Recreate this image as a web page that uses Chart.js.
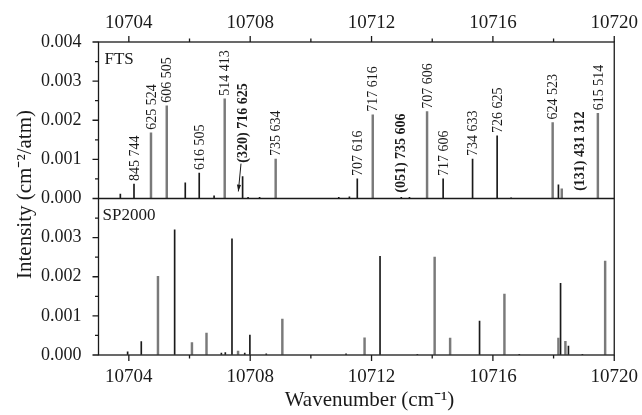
<!DOCTYPE html>
<html>
<head>
<meta charset="utf-8">
<script src="https://cdn.jsdelivr.net/npm/chart.js@4.4.1/dist/chart.umd.min.js"></script>
<style>
  html, body { margin: 0; padding: 0; background: #fff; }
  #wrap { width: 642px; height: 415px; }
</style>
</head>
<body>
<div id="wrap"><canvas id="spectrum"></canvas></div>
<script>
// FTS (top panel) lines, split by shade
const ftsGrayX = [10704.73, 10705.25, 10707.16, 10708.84, 10712.04, 10713.83, 10717.97, 10718.27, 10719.46];
const ftsGrayY = [0.00168, 0.00237, 0.00255, 0.00101, 0.00214, 0.00222, 0.00194, 0.00025, 0.00218];
const ftsBlackX = [10703.72, 10704.17, 10705.86, 10706.32, 10706.81, 10707.75, 10707.93, 10708.31, 10710.92, 10711.27, 10711.53, 10712.98, 10713.25, 10714.36, 10715.33, 10716.14, 10716.60, 10718.16];
const ftsBlackY = [0.00011, 0.00037, 0.00040, 0.00065, 0.00007, 0.00056, 0.00003, 0.00003, 0.00003, 0.00004, 0.00050, 0.00003, 0.00003, 0.00050, 0.00101, 0.00160, 0.00002, 0.00035];

// assignments written above the FTS lines
const lineNames = ['845 744', '625 524', '606 505', '616 505', '514 413', '(320) 716 625', '735 634', '707 616',
                   '717 616', '(051) 735 606', '707 606', '717 606', '734 633', '726 625', '624 523', '(131) 431 312', '615 514'];
const lineNameX = [10704.17, 10704.73, 10705.25, 10706.32, 10707.16, 10707.73, 10708.84, 10711.53,
                   10712.04, 10712.96, 10713.83, 10714.36, 10715.33, 10716.14, 10717.97, 10718.85, 10719.46];
const lineNameAt = [0.00037, 0.00168, 0.00237, 0.00065, 0.00255, 0.00084, 0.00101, 0.00050,
                    0.00214, 0.00007, 0.00222, 0.00050, 0.00101, 0.00160, 0.00194, 0.00012, 0.00218];
const boldNames = ['(320) 716 625', '(051) 735 606', '(131) 431 312'];
const arrowTip = [10707.61, 0.00018];

// SP2000 (bottom panel) lines
const spGrayX = [10704.96, 10706.08, 10706.56, 10707.60, 10709.06, 10711.77, 10714.08, 10714.59, 10716.38, 10718.16, 10718.39, 10719.70];
const spGrayY = [0.00201, 0.00032, 0.00056, 0.00010, 0.00092, 0.00044, 0.00250, 0.00043, 0.00156, 0.00043, 0.00035, 0.00240];
const spBlackX = [10703.96, 10704.41, 10705.51, 10707.05, 10707.18, 10707.40, 10707.82, 10707.99, 10708.53, 10711.16, 10712.28, 10713.51, 10715.56, 10716.87, 10718.23, 10718.49, 10718.95];
const spBlackY = [0.00008, 0.00034, 0.00320, 0.00005, 0.00006, 0.00297, 0.00005, 0.00051, 0.00003, 0.00003, 0.00252, 0.00002, 0.00087, 0.00002, 0.00183, 0.00023, 0.00002];

const xTicks = [10704, 10706, 10708, 10710, 10712, 10714, 10716, 10718, 10720];
const yTicks = [0, 0.0005, 0.001, 0.0015, 0.002, 0.0025, 0.003, 0.0035, 0.004];

const SERIF = '"Liberation Serif", "Times New Roman", serif';
const INK = '#1a1a1a';

function pts(xs, ys) {
    return xs.map((x, i) => ({ x: x, y: ys[i] }));
}

function isMajorY(v) {
    return Math.round(v * 2000) % 2 === 0;
}

const frame = {
    id: 'frame',
    afterDraw(chart) {
        const ctx = chart.ctx;
        const a = chart.chartArea;
        const x = chart.scales.x;
        const yt = chart.scales.yTop;
        const yb = chart.scales.yBot;
        ctx.save();
        ctx.strokeStyle = INK;
        ctx.lineWidth = 1.3;
        ctx.strokeRect(a.left, a.top, a.right - a.left, a.bottom - a.top);
        ctx.beginPath();
        ctx.moveTo(a.left, yt.bottom);
        ctx.lineTo(a.right, yt.bottom);
        // x ticks, outward on top and bottom
        xTicks.forEach(v => {
            const px = x.getPixelForValue(v);
            const len = v % 4 === 0 ? 6 : 3.5;
            ctx.moveTo(px, a.bottom);
            ctx.lineTo(px, a.bottom + len);
            ctx.moveTo(px, a.top);
            ctx.lineTo(px, a.top - len);
        });
        // y ticks on both panels, outward left
        [yt, yb].forEach(s => {
            yTicks.forEach(v => {
                const py = s.getPixelForValue(v);
                const len = isMajorY(v) ? 6 : 3.5;
                ctx.moveTo(a.left, py);
                ctx.lineTo(a.left - len, py);
            });
        });
        ctx.stroke();

        // y axis title spanning both panels
        ctx.fillStyle = INK;
        ctx.font = '21px ' + SERIF;
        ctx.textAlign = 'center';
        ctx.textBaseline = 'middle';
        ctx.translate(25, (a.top + a.bottom) / 2 - 4);
        ctx.rotate(-Math.PI / 2);
        ctx.fillText('Intensity (cm\u207B\u00B2/atm)', 0, 0);
        ctx.restore();

        // panel names
        ctx.save();
        ctx.fillStyle = INK;
        ctx.font = '17px ' + SERIF;
        ctx.textAlign = 'left';
        ctx.textBaseline = 'middle';
        ctx.fillText('FTS', a.left + 6, a.top + 18);
        ctx.fillText('SP2000', a.left + 4, yt.bottom + 17);
        ctx.restore();

        // line assignments
        ctx.save();
        ctx.fillStyle = INK;
        ctx.textAlign = 'left';
        ctx.textBaseline = 'middle';
        lineNames.forEach((name, i) => {
            const px = x.getPixelForValue(lineNameX[i]) + 1;
            const py = yt.getPixelForValue(lineNameAt[i]) - 3;
            ctx.font = (boldNames.includes(name) ? 'bold ' : '') + '14px ' + SERIF;
            ctx.save();
            ctx.translate(px, py);
            ctx.rotate(-Math.PI / 2);
            ctx.fillText(name, 0, 0);
            ctx.restore();
        });
        // arrow for the (320) band
        const i320 = lineNames.indexOf('(320) 716 625');
        const sx = x.getPixelForValue(lineNameX[i320]) - 1;
        const sy = yt.getPixelForValue(lineNameAt[i320]) - 2;
        const tx = x.getPixelForValue(arrowTip[0]);
        const ty = yt.getPixelForValue(arrowTip[1]);
        ctx.strokeStyle = INK;
        ctx.lineWidth = 1;
        ctx.beginPath();
        ctx.moveTo(sx, sy);
        ctx.lineTo(tx, ty);
        ctx.stroke();
        const ang = Math.atan2(ty - sy, tx - sx);
        ctx.beginPath();
        ctx.moveTo(tx, ty);
        ctx.lineTo(tx - 7 * Math.cos(ang - 0.3), ty - 7 * Math.sin(ang - 0.3));
        ctx.lineTo(tx - 7 * Math.cos(ang + 0.3), ty - 7 * Math.sin(ang + 0.3));
        ctx.closePath();
        ctx.fill();
        ctx.restore();
    }
};

const xAxis = (pos) => ({
    type: 'linear',
    position: pos,
    min: 10703,
    max: 10720,
    offset: false,
    afterBuildTicks: s => { s.ticks = xTicks.map(v => ({ value: v })); },
    afterFit: s => { s.height = pos === 'top' ? 42 : 60; },
    ticks: {
        autoSkip: false,
        maxRotation: 0,
        padding: pos === 'top' ? 1 : 4,
        color: INK,
        font: { family: SERIF, size: 19 },
        callback: v => (v % 4 === 0 ? String(v) : '')
    },
    grid: { drawOnChartArea: false, offset: false, tickLength: 7, tickColor: 'transparent' },
    border: { display: false }
});

const yAxis = (hideTop) => ({
    type: 'linear',
    position: 'left',
    stack: 'panels',
    stackWeight: 1,
    min: 0,
    max: 0.004,
    afterBuildTicks: s => { s.ticks = yTicks.map(v => ({ value: v })); },
    afterFit: s => { s.width = 98.5; },
    ticks: {
        padding: 10,
        color: INK,
        font: { family: SERIF, size: 18 },
        callback: v => {
            if (!isMajorY(v)) return '';
            if (hideTop && v > 0.0035) return '';
            return v.toFixed(3);
        }
    },
    grid: { drawOnChartArea: false, tickLength: 7, tickColor: 'transparent' },
    border: { display: false }
});

new Chart(document.getElementById('spectrum'), {
    type: 'bar',
    data: {
        datasets: [
            { label: 'FTS', data: pts(ftsGrayX, ftsGrayY), yAxisID: 'yTop', backgroundColor: '#7a7a7a', barThickness: 1.8 },
            { label: 'FTS', data: pts(ftsBlackX, ftsBlackY), yAxisID: 'yTop', backgroundColor: INK, barThickness: 1 },
            { label: 'SP2000', data: pts(spGrayX, spGrayY), yAxisID: 'yBot', backgroundColor: '#7a7a7a', barThickness: 1.8 },
            { label: 'SP2000', data: pts(spBlackX, spBlackY), yAxisID: 'yBot', backgroundColor: INK, barThickness: 1 }
        ]
    },
    options: {
        responsive: true,
        maintainAspectRatio: false,
        animation: false,
        layout: { padding: { left: 0, right: 27, top: 0, bottom: 0 } },
        datasets: { bar: { grouped: false, xAxisID: 'x', borderWidth: 0 } },
        plugins: { legend: { display: false }, tooltip: { enabled: false } },
        scales: {
            x: Object.assign(xAxis('bottom'), {
                title: { display: true, text: '\u00A0\u00A0\u00A0\u00A0\u00A0Wavenumber (cm\u207B\u00B9)', color: INK, font: { family: SERIF, size: 21 }, padding: { top: 0, bottom: 2 } }
            }),
            xTop: xAxis('top'),
            yBot: yAxis(true),
            yTop: yAxis(false)
        }
    },
    plugins: [frame]
});
</script>
</body>
</html>
